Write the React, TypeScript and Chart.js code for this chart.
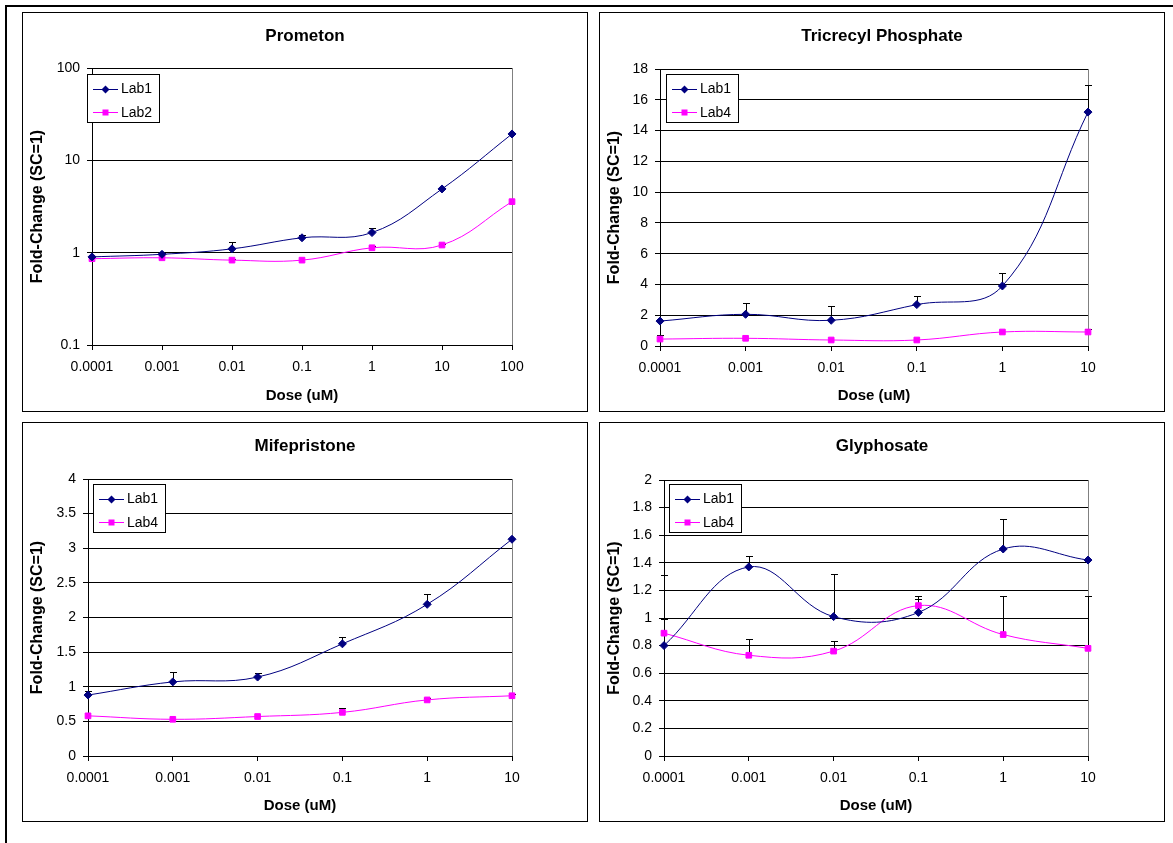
import React, { useEffect, useRef } from 'react';
import { Chart, registerables } from 'chart.js';

Chart.register(...registerables);

// ---------- data ----------
const doseLabels7 = ['0.0001', '0.001', '0.01', '0.1', '1', '10', '100'];
const doseLabels6 = ['0.0001', '0.001', '0.01', '0.1', '1', '10'];

const prometonLab1 = [0.9, 0.96, 1.1, 1.45, 1.65, 4.9, 19.3];
const prometonLab1Err = [null, 0.03, 0.22, 0.1, 0.22, 0.15, 0.6];
const prometonLab2 = [0.86, 0.88, 0.83, 0.83, 1.13, 1.21, 3.57];
const prometonLab2Err = [null, null, 0.03, null, 0.04, 0.04, null];
const prometonTicks = [0.1, 1, 10, 100];

const tricresylLab1 = [1.62, 2.06, 1.67, 2.69, 3.9, 15.2];
const tricresylLab1Err = [null, 0.76, 0.9, 0.54, 0.84, 1.76];
const tricresylLab4 = [0.45, 0.5, 0.39, 0.39, 0.91, 0.91];
const tricresylLab4Err = [0.29, null, null, null, null, 0.17];
const tricresylTicks = [0, 2, 4, 6, 8, 10, 12, 14, 16, 18];

const mifeLab1 = [0.88, 1.07, 1.14, 1.62, 2.19, 3.13];
const mifeLab1Err = [0.06, 0.15, 0.06, 0.1, 0.15, null];
const mifeLab4 = [0.58, 0.53, 0.57, 0.63, 0.81, 0.87];
const mifeLab4Err = [null, null, null, 0.07, 0.03, 0.02];
const mifeTicks = [0, 0.5, 1, 1.5, 2, 2.5, 3, 3.5, 4];

const glyLab1 = [0.8, 1.37, 1.01, 1.04, 1.5, 1.42];
const glyLab1Err = [0.51, 0.08, 0.31, 0.1, 0.22, null];
const glyLab4 = [0.89, 0.73, 0.76, 1.09, 0.88, 0.78];
const glyLab4Err = [0.1, 0.12, 0.07, 0.07, 0.28, 0.38];
const glyTicks = [0, 0.2, 0.4, 0.6, 0.8, 1, 1.2, 1.4, 1.6, 1.8, 2];

// ---------- styling ----------
const FONT = "'Liberation Sans', Arial, sans-serif";
const NAVY = '#000080';
const MAGENTA = '#FF00FF';
const PANEL_W = 566;
const PANEL_H = 400;

type Series = { name: string; data: number[]; err: (number | null)[]; color: string; style: string };
type PanelCfg = {
  title: string;
  left: number;
  top: number;
  labels: string[];
  series: Series[];
  yType: 'linear' | 'logarithmic';
  yTicks: number[];
  pad: { left: number; right: number; top: number; bottom: number };
  yW: number;
  legend: { x: number; y: number };
};

const panels: PanelCfg[] = [
  {
    title: 'Prometon', left: 22, top: 12, labels: doseLabels7,
    series: [
      { name: 'Lab1', data: prometonLab1, err: prometonLab1Err, color: NAVY, style: 'rectRot' },
      { name: 'Lab2', data: prometonLab2, err: prometonLab2Err, color: MAGENTA, style: 'rect' },
    ],
    yType: 'logarithmic', yTicks: prometonTicks,
    pad: { left: 20, right: 76, top: 56, bottom: 27 }, yW: 50, legend: { x: 64.5, y: 62 },
  },
  {
    title: 'Tricrecyl Phosphate', left: 599, top: 12, labels: doseLabels6,
    series: [
      { name: 'Lab1', data: tricresylLab1, err: tricresylLab1Err, color: NAVY, style: 'rectRot' },
      { name: 'Lab4', data: tricresylLab4, err: tricresylLab4Err, color: MAGENTA, style: 'rect' },
    ],
    yType: 'linear', yTicks: tricresylTicks,
    pad: { left: 16, right: 77, top: 57, bottom: 26 }, yW: 45, legend: { x: 66.5, y: 62 },
  },
  {
    title: 'Mifepristone', left: 22, top: 422, labels: doseLabels6,
    series: [
      { name: 'Lab1', data: mifeLab1, err: mifeLab1Err, color: NAVY, style: 'rectRot' },
      { name: 'Lab4', data: mifeLab4, err: mifeLab4Err, color: MAGENTA, style: 'rect' },
    ],
    yType: 'linear', yTicks: mifeTicks,
    pad: { left: 16, right: 76, top: 57, bottom: 26 }, yW: 50, legend: { x: 71.3, y: 62.3 },
  },
  {
    title: 'Glyphosate', left: 599, top: 422, labels: doseLabels6,
    series: [
      { name: 'Lab1', data: glyLab1, err: glyLab1Err, color: NAVY, style: 'rectRot' },
      { name: 'Lab4', data: glyLab4, err: glyLab4Err, color: MAGENTA, style: 'rect' },
    ],
    yType: 'linear', yTicks: glyTicks,
    pad: { left: 20, right: 77, top: 58, bottom: 26 }, yW: 45, legend: { x: 70, y: 62.3 },
  },
];

function fmt(v: number): string {
  return String(Math.round(v * 10000) / 10000);
}

function drawMarker(ctx: CanvasRenderingContext2D, style: string, x: number, y: number, color: string) {
  ctx.save();
  ctx.fillStyle = color;
  ctx.beginPath();
  if (style === 'rectRot') {
    ctx.moveTo(x, y - 4);
    ctx.lineTo(x + 4, y);
    ctx.lineTo(x, y + 4);
    ctx.lineTo(x - 4, y);
    ctx.closePath();
  } else {
    ctx.rect(x - 3, y - 3, 6, 6);
  }
  ctx.fill();
  ctx.restore();
}

function Panel({ cfg }: { cfg: PanelCfg }) {
  const ref = useRef<HTMLCanvasElement | null>(null);

  useEffect(() => {
    if (!ref.current) return;

    const decor = {
      id: 'decor',
      beforeDatasetsDraw(chart: any) {
        const ctx: CanvasRenderingContext2D = chart.ctx;
        const a = chart.chartArea;
        ctx.save();
        ctx.strokeStyle = '#808080';
        ctx.lineWidth = 1;
        ctx.beginPath();
        ctx.moveTo(Math.round(a.right) + 0.5, a.top);
        ctx.lineTo(Math.round(a.right) + 0.5, a.bottom);
        ctx.stroke();
        const yS = chart.scales.y;
        ctx.strokeStyle = '#000';
        cfg.series.forEach((s, di) => {
          const meta = chart.getDatasetMeta(di);
          s.err.forEach((e, i) => {
            if (e == null) return;
            const pt = meta.data[i];
            const x = Math.round(pt.x) + 0.5;
            const y0 = yS.getPixelForValue(s.data[i]);
            const y1 = Math.round(yS.getPixelForValue(s.data[i] + e)) + 0.5;
            ctx.beginPath();
            ctx.moveTo(x, y0);
            ctx.lineTo(x, y1);
            ctx.moveTo(x - 3.5, y1);
            ctx.lineTo(x + 3.5, y1);
            ctx.stroke();
          });
        });
        ctx.restore();
      },
      afterDraw(chart: any) {
        const ctx: CanvasRenderingContext2D = chart.ctx;
        const a = chart.chartArea;
        const W = chart.width;
        const H = chart.height;
        ctx.save();
        ctx.strokeStyle = '#000';
        ctx.lineWidth = 1;
        ctx.strokeRect(0.5, 0.5, W - 1, H - 1);
        ctx.fillStyle = '#000';
        ctx.textAlign = 'center';
        ctx.textBaseline = 'middle';
        ctx.font = `bold 17px ${FONT}`;
        ctx.fillText(cfg.title, W / 2, 24.5);
        ctx.font = `bold 15px ${FONT}`;
        ctx.fillText('Dose (uM)', (a.left + a.right) / 2, 384);
        ctx.save();
        ctx.translate(15.5, (a.top + a.bottom) / 2);
        ctx.rotate(-Math.PI / 2);
        ctx.font = `bold 16px ${FONT}`;
        ctx.fillText('Fold-Change (SC=1)', 0, 0);
        ctx.restore();
        const lx = Math.round(cfg.legend.x);
        const ly = Math.round(cfg.legend.y);
        ctx.fillStyle = '#fff';
        ctx.fillRect(lx, ly, 72, 48);
        ctx.strokeStyle = '#000';
        ctx.strokeRect(lx + 0.5, ly + 0.5, 72, 48);
        cfg.series.forEach((s, i) => {
          const ry = ly + 14.5 + i * 23.5;
          ctx.strokeStyle = s.color;
          ctx.lineWidth = 1;
          ctx.beginPath();
          ctx.moveTo(lx + 6, Math.round(ry) + 0.5);
          ctx.lineTo(lx + 31, Math.round(ry) + 0.5);
          ctx.stroke();
          drawMarker(ctx, s.style, lx + 18.5, Math.round(ry) + 0.5, s.color);
          ctx.fillStyle = '#000';
          ctx.textAlign = 'left';
          ctx.textBaseline = 'middle';
          ctx.font = `14px ${FONT}`;
          ctx.fillText(s.name, lx + 34, ry + 1);
        });
        ctx.restore();
      },
    };

    const ticks = cfg.yTicks;
    const chart = new Chart(ref.current, {
      type: 'line',
      data: {
        labels: cfg.labels,
        datasets: cfg.series.map((s) => ({
          label: s.name,
          data: s.data,
          borderColor: s.color,
          backgroundColor: s.color,
          borderWidth: 1,
          pointStyle: s.style as any,
          pointRadius: 4,
          pointBorderWidth: 1,
          pointBackgroundColor: s.color,
          pointBorderColor: s.color,
          tension: 0.4,
          fill: false,
        })),
      },
      options: {
        animation: false,
        responsive: false,
        devicePixelRatio: 1,
        layout: { padding: cfg.pad },
        plugins: {
          legend: { display: false },
          title: { display: false },
          tooltip: { enabled: false },
        },
        scales: {
          x: {
            type: 'category',
            offset: false,
            grid: { display: true, drawOnChartArea: false, drawTicks: true, tickLength: 5, color: '#000' },
            border: { display: true, color: '#000' },
            ticks: {
              autoSkip: false,
              maxRotation: 0,
              padding: 9,
              color: '#000',
              font: { family: FONT, size: 14 },
            },
            afterFit: (scale: any) => { scale.height = 40; },
          },
          y: {
            type: cfg.yType,
            min: ticks[0],
            max: ticks[ticks.length - 1],
            grid: { color: '#000', tickLength: 5, drawTicks: true },
            border: { display: true, color: '#000' },
            ticks: {
              padding: 7,
              color: '#000',
              font: { family: FONT, size: 14 },
              callback: (v: any) => fmt(Number(v)),
            },
            afterBuildTicks: (scale: any) => {
              scale.ticks = ticks.map((v) => ({ value: v }));
            },
            afterFit: (scale: any) => { scale.width = cfg.yW; },
          } as any,
        },
      },
      plugins: [decor],
    });
    return () => chart.destroy();
  }, [cfg]);

  return (
    <canvas
      ref={ref}
      width={PANEL_W}
      height={PANEL_H}
      style={{ position: 'absolute', left: cfg.left, top: cfg.top, width: PANEL_W, height: PANEL_H }}
    />
  );
}

export default function App() {
  return (
    <div style={{ position: 'absolute', left: 0, top: 0, width: 1173, height: 843, background: '#fff', overflow: 'hidden' }}>
      <div style={{ position: 'absolute', left: 5, top: 5, width: 1168, height: 2, background: '#000' }} />
      <div style={{ position: 'absolute', left: 5, top: 5, width: 2, height: 838, background: '#000' }} />
      {panels.map((p) => (
        <Panel key={p.title} cfg={p} />
      ))}
    </div>
  );
}
